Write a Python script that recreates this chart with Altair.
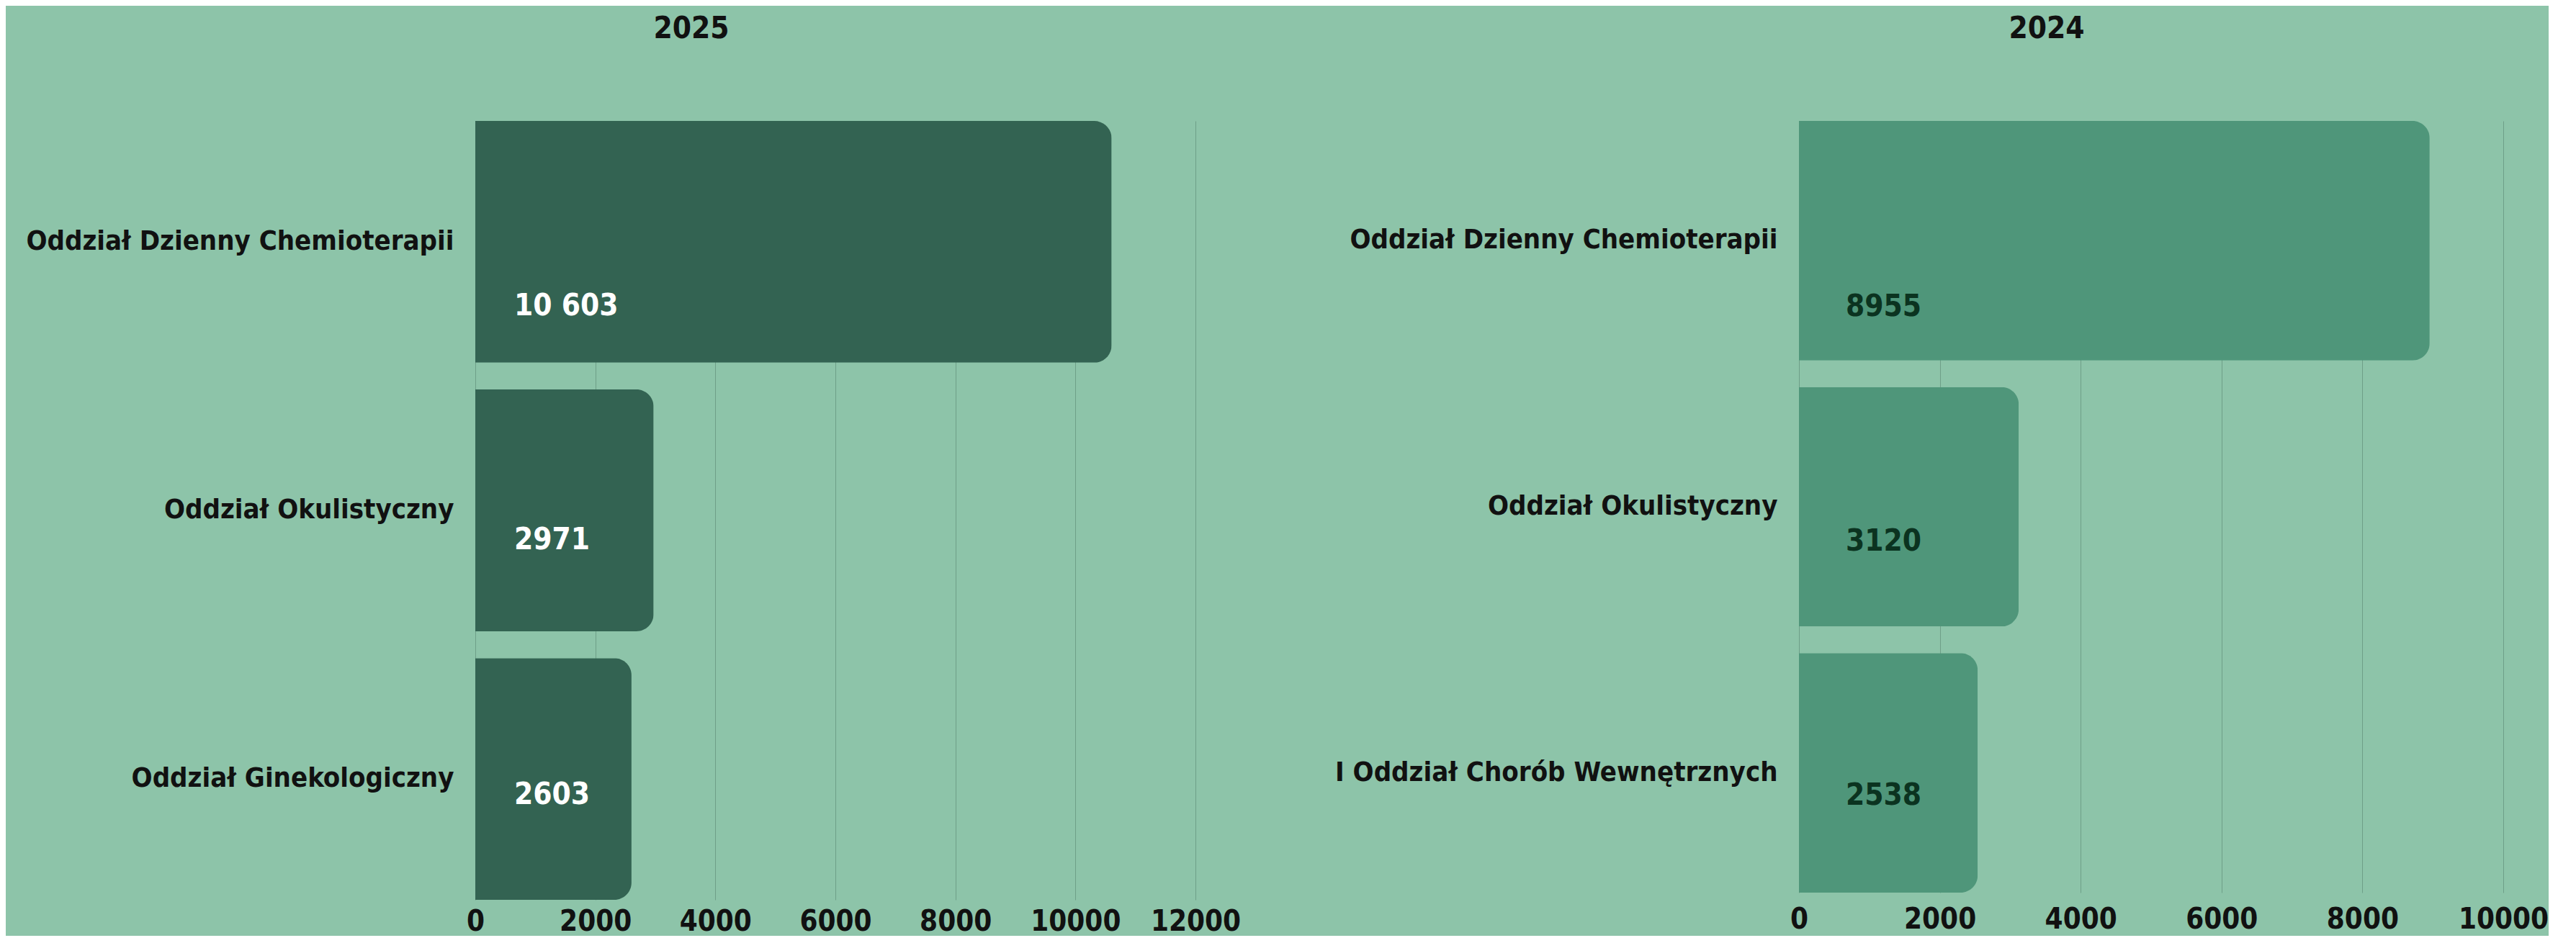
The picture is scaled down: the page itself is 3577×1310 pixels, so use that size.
import altair as alt
import pandas as pd

# ---- data ----
departments_2025 = ["Oddział Dzienny Chemioterapii", "Oddział Okulistyczny", "Oddział Ginekologiczny"]
values_2025 = [10603, 2971, 2603]
labels_2025 = ["10 603", "2971", "2603"]

departments_2024 = ["Oddział Dzienny Chemioterapii", "Oddział Okulistyczny", "I Oddział Chorób Wewnętrznych"]
values_2024 = [8955, 3120, 2538]
labels_2024 = ["8955", "3120", "2538"]

ticks_2025 = [0, 2000, 4000, 6000, 8000, 10000, 12000]
ticks_2024 = [0, 2000, 4000, 6000, 8000, 10000]

FONT = "'DejaVu Sans Condensed', 'Liberation Sans Narrow', Roboto, sans-serif"
BG = "#8DC4A9"
GRID = "#6E9F88"


def panel(title, depts, vals, labels, domain_max, tick_vals, width, height,
          bar_color, text_color, label_x, label_dy, title_dx, x_label_pad):
    df = pd.DataFrame({"dept": depts, "value": vals, "label": labels,
                       "idx": list(range(len(depts)))})
    y_enc = alt.Y("dept:N", sort=None,
                  scale=alt.Scale(paddingInner=0.1, paddingOuter=0),
                  axis=alt.Axis(title=None, domain=False, ticks=False, tickSize=0,
                                labelFont=FONT, labelFontSize=38, labelFontWeight="bold",
                                labelColor="#111111", labelPadding=30, labelLimit=0,
                                minExtent=652, maxExtent=652))
    x_enc = alt.X("value:Q",
                  scale=alt.Scale(domain=[0, domain_max], nice=False),
                  axis=alt.Axis(title=None, domain=False, ticks=False, tickSize=0,
                                values=tick_vals, grid=True, gridColor=GRID, gridWidth=1,
                                labelFont=FONT, labelFontSize=40, labelFontWeight="bold",
                                labelColor="#111111", labelPadding=x_label_pad,
                                labelFlush=False, format="d"))
    base = alt.Chart(df)
    bars = base.mark_bar(color=bar_color, cornerRadiusEnd=24).encode(x=x_enc, y=y_enc)
    layers = [bars]
    for i, dy in enumerate(label_dy):
        layers.append(
            base.transform_filter(alt.datum.idx == i)
            .mark_text(align="left", baseline="middle", font=FONT, fontSize=42,
                       fontWeight="bold", color=text_color, dy=dy)
            .encode(x=alt.value(label_x), y=alt.Y("dept:N", sort=None), text="label:N")
        )
    return alt.layer(*layers).properties(
        width=width, height=height,
        title=alt.TitleParams(text=title, font=FONT, fontSize=42, fontWeight="bold",
                              color="#111111", anchor="middle", dx=title_dx, offset=106),
    )


left = panel("2025", departments_2025, values_2025, labels_2025, 12000, ticks_2025,
             1000, 1082, "#336352", "#FFFFFF", 54, [89, 41, 22], -200, 10)
right = panel("2024", departments_2024, values_2024, labels_2024, 10000, ticks_2024,
              978, 1072, "#4F967A", "#0B3320", 65, [92, 48, 31], -145, 17)

chart = alt.hconcat(left, right, spacing=123).properties(
    padding={"left": 0, "top": 11, "right": 0, "bottom": 0}
).configure(background=BG).configure_view(stroke=None)

chart.save("out.html", embed_options={"renderer": "svg", "actions": False})
